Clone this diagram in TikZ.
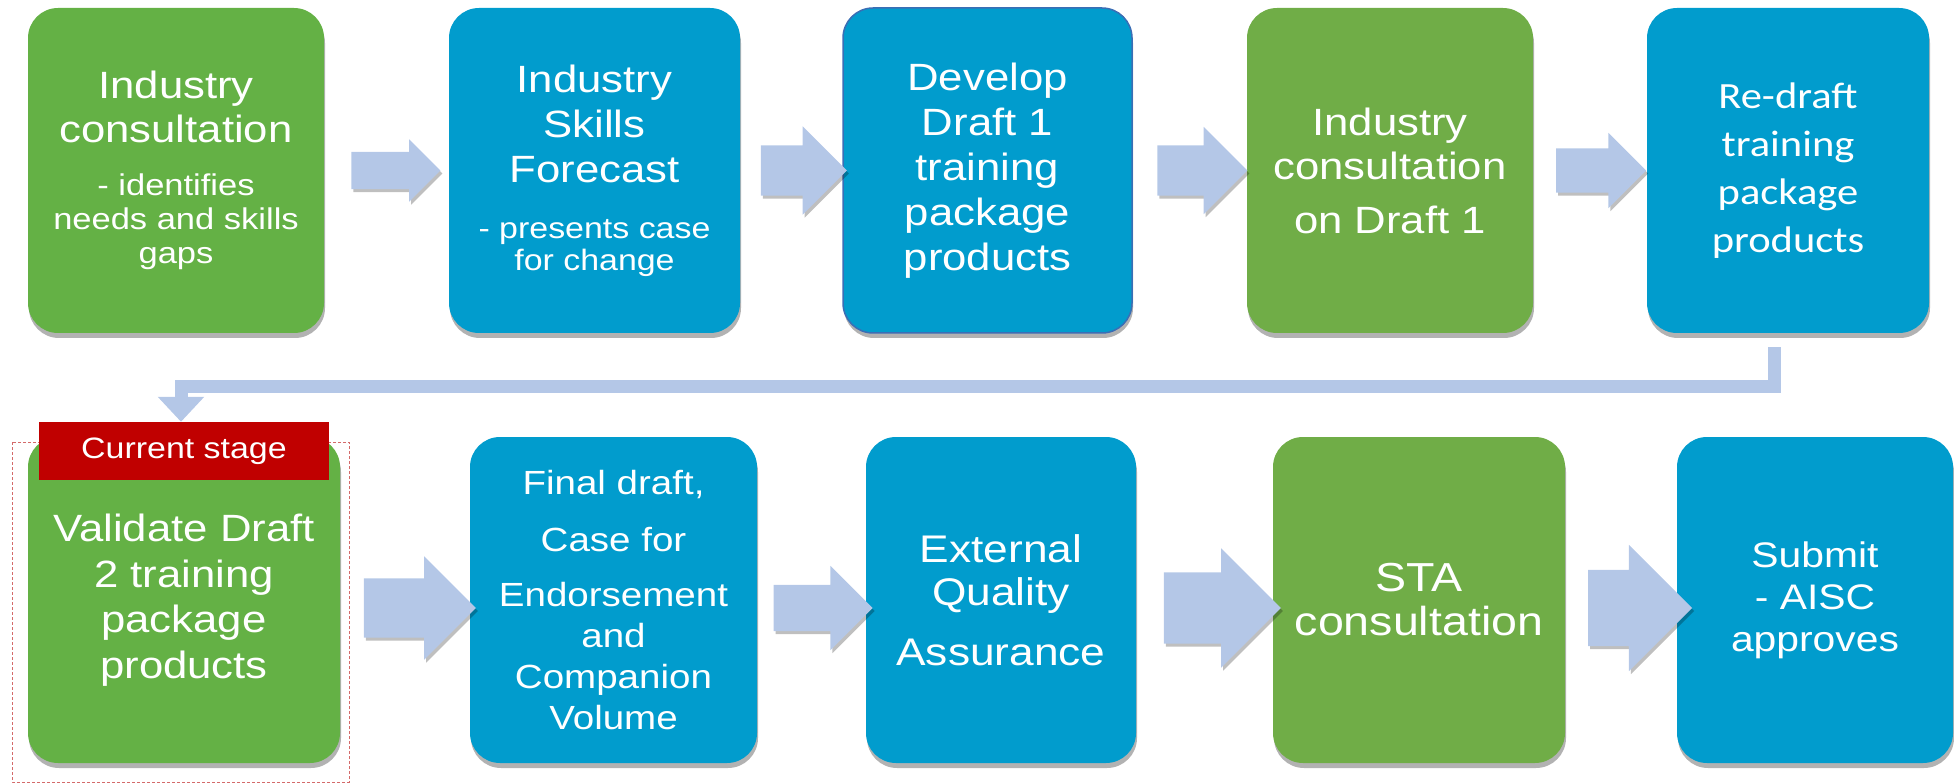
\documentclass[tikz,border=0pt]{standalone}
\usepackage{fontspec}
\usepackage{graphicx}
\setmainfont{Liberation Sans}
\newfontfamily\calibrifont{Carlito}
\usetikzlibrary{shapes.arrows}
\usetikzlibrary{shadows}
\usetikzlibrary{arrows.meta}
\usetikzlibrary{calc}

\definecolor{stagegreen}{HTML}{64B145}
\definecolor{consultgreen}{HTML}{70AD47}
\definecolor{stageblue}{HTML}{019CCD}
\definecolor{arrowblue}{HTML}{B4C7E7}
\definecolor{currentred}{HTML}{C00000}
\definecolor{markred}{HTML}{D46A6A}

\newcommand{\bigtext}{\fontsize{38}{44}\selectfont}
\newcommand{\smalltext}{\fontsize{30}{34}\selectfont}
% the slide text is a little wider than the font
\newcommand{\stagetext}[2]{\scalebox{1.15}[1]{\parbox{#1}{\centering #2}}}

\tikzset{
  stage/.style={rounded corners=30pt, inner sep=0pt, text=white, align=center,
    minimum height=325pt,
    drop shadow={shadow xshift=1pt, shadow yshift=-5pt, opacity=0.3, fill=black}},
  greenstage/.style={stage, fill=stagegreen},
  consultstage/.style={stage, fill=consultgreen},
  bluestage/.style={stage, fill=stageblue},
  blockarrow/.style n args={3}{single arrow, fill=arrowblue, inner xsep=0pt,
    inner ysep=#2, minimum height=#1, single arrow head extend=#3,
    drop shadow={shadow xshift=2pt, shadow yshift=-3pt, opacity=0.25, fill=black}},
  loopline/.style={draw=arrowblue, line width=13pt, -{Triangle[width=45pt,length=25pt]}}
}

\begin{document}
\begin{tikzpicture}[x=1pt,y=-1pt]
    \useasboundingbox (0,0) rectangle (1954,783);

    % first row
    \node[greenstage, minimum width=296pt] (consult) at (176,170.5)
        {\stagetext{250pt}{{\bigtext Industry\\consultation\par}\vspace{19pt}{\smalltext - identifies\\needs and skills\\gaps\par}}};
    \node[bluestage, minimum width=291pt] (forecast) at (594.5,170.5)
        {\stagetext{245pt}{{\fontsize{38}{45}\selectfont Industry\\Skills\\Forecast\par}\vspace{24pt}{\fontsize{29.5}{32}\selectfont - presents case\\for change\par}}};
    \node[bluestage, minimum width=289pt, draw={rgb,255:red,58;green,110;blue,181}, line width=1.5pt] (draftone) at (987.5,170.5)
        {\stagetext{240pt}{{\fontsize{38}{45}\selectfont Develop\\Draft 1\\training\\package\\products\par}}};
    \node[consultstage, minimum width=286pt] (consultone) at (1390,170.5)
        {\stagetext{240pt}{{\bigtext Industry\\consultation\par}\vspace{10pt}{\bigtext on Draft 1\par}}};
    \node[bluestage, minimum width=282pt] (redraft) at (1788,170.5)
        {\stagetext{235pt}{{\calibrifont\fontsize{37}{48}\selectfont Re-draft\\training\\package\\products\par}}};

    \node[blockarrow={89pt}{18.5pt}{12.5pt}] (a1) at ($(consult.east)!0.5!(forecast.west)$) {};
    \node[blockarrow={86pt}{25pt}{19pt}] (a2) at ($(forecast.east)!0.5!(draftone.west)$) {};
    \node[blockarrow={90pt}{25pt}{18.5pt}] (a3) at ($(draftone.east)!0.5!(consultone.west)$) {};
    \node[blockarrow={90pt}{22pt}{15.5pt}] (a4) at ($(consultone.east)!0.5!(redraft.west)$) {};

    % second row
    \draw[markred, line width=0.8pt, dash pattern=on 3pt off 2pt] (12,442) rectangle (349,782);
    \node[greenstage, minimum width=312pt, minimum height=326pt] (validate) at (184,600)
        {\stagetext{255pt}{{\fontsize{38}{45.5}\selectfont Validate Draft\\2 training\\package\\products\par}}};
    \node[fill=currentred, text=white, minimum width=290pt, minimum height=58pt, inner sep=0pt,
        font=\fontsize{29.5}{34}\selectfont] (current) at (184,451) {\scalebox{1.15}[1]{Current stage}};
    \node[bluestage, minimum width=287pt, minimum height=326pt] (finaldraft) at (613.5,600)
        {\stagetext{235pt}{{\fontsize{33.5}{41}\selectfont Final draft,\par\vspace{16pt}Case for\par\vspace{14pt}Endorsement\\and\\Companion\\Volume\par}}};
    \node[bluestage, minimum width=270pt, minimum height=326pt] (quality) at (1001,600)
        {\stagetext{225pt}{{\fontsize{38.5}{43}\selectfont External\\Quality\par\vspace{17pt}Assurance\par}}};
    \node[consultstage, minimum width=292pt, minimum height=326pt] (sta) at (1419,600)
        {\stagetext{240pt}{{\fontsize{40.5}{44}\selectfont STA\\consultation\par}}};
    \node[bluestage, minimum width=276pt, minimum height=326pt] (submit) at (1815,600)
        {\stagetext{230pt}{{\fontsize{35.5}{42}\selectfont Submit\\- AISC\\approves\par}}};

    \node[blockarrow={112pt}{29.5pt}{22pt}, yshift=-8pt] (a6) at ($(validate.east)!0.5!(finaldraft.west)$) {};
    \node[blockarrow={99pt}{23pt}{19pt}, yshift=-8pt] (a7) at ($(finaldraft.east)!0.5!(quality.west)$) {};
    \node[blockarrow={117pt}{35.5pt}{24pt}, yshift=-8pt] (a8) at ($(quality.east)!0.5!(sta.west)$) {};
    \node[blockarrow={104pt}{38pt}{25pt}, yshift=-8pt] (a9) at ($(sta.east)!0.5!(submit.west)$) {};

    % back to the second row
    \draw[loopline] ([xshift=-14pt,yshift=-14pt]redraft.south) -- ++(0,39) -| ([xshift=-3pt]current.north);
\end{tikzpicture}
\end{document}
